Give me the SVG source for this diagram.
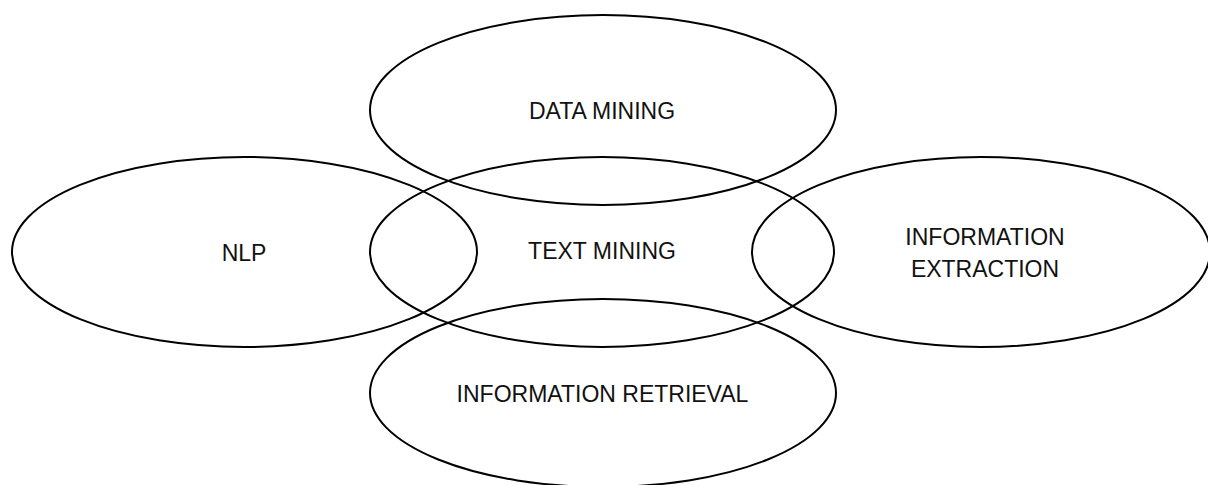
<svg xmlns="http://www.w3.org/2000/svg" width="1208" height="485" viewBox="0 0 1208 485">
  <style>
    .area { fill: none; stroke: #000; stroke-width: 2; }
    .label { font-family: "Liberation Sans", Arial, sans-serif; font-size: 23px; fill: #111; text-anchor: middle; }
  </style>
  <rect width="1208" height="485" fill="#fff"/>
  <g id="data-mining">
    <ellipse class="area" cx="603" cy="110" rx="233" ry="95"/>
    <text class="label" x="602" y="119">DATA MINING</text>
  </g>
  <g id="nlp">
    <ellipse class="area" cx="244.5" cy="252" rx="232.5" ry="95"/>
    <text class="label" x="244" y="261">NLP</text>
  </g>
  <g id="text-mining">
    <ellipse class="area" cx="602" cy="252" rx="232" ry="95"/>
    <text class="label" x="602" y="259">TEXT MINING</text>
  </g>
  <g id="information-extraction">
    <ellipse class="area" cx="981" cy="252" rx="229" ry="95"/>
    <text class="label" x="985" y="245">INFORMATION</text>
    <text class="label" x="985" y="277">EXTRACTION</text>
  </g>
  <g id="information-retrieval">
    <ellipse class="area" cx="603" cy="393" rx="233" ry="94"/>
    <text class="label" x="602.5" y="402">INFORMATION RETRIEVAL</text>
  </g>
  <g id="connectors"></g>
</svg>
